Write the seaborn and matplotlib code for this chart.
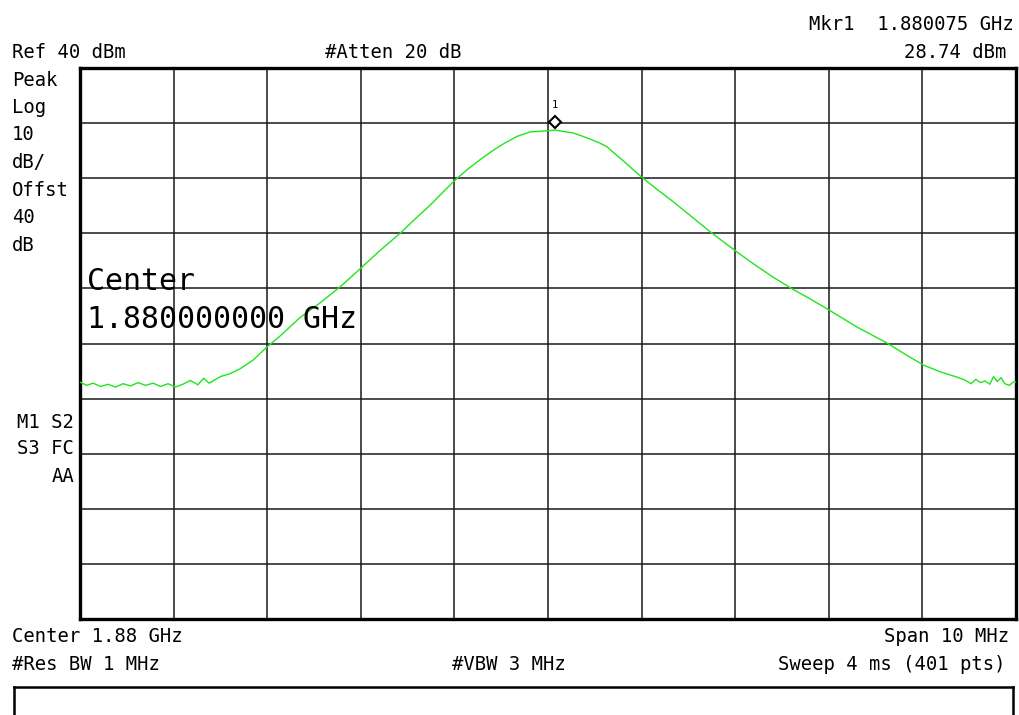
import matplotlib
matplotlib.use("Agg")
import matplotlib.pyplot as plt
import matplotlib.transforms as mtransforms
import seaborn as sns
import pandas as pd
import numpy as np

# ---- data ----
freq_offset_mhz = [
    -5.00, -4.93, -4.86, -4.78, -4.70, -4.62, -4.54, -4.46, -4.38, -4.30,
    -4.22, -4.14, -4.06, -3.98, -3.90, -3.82, -3.74, -3.68, -3.62, -3.56,
    -3.50, -3.40, -3.29, -3.15, -3.00, -2.86, -2.65, -2.44, -2.22, -2.01,
    -1.80, -1.58, -1.42, -1.26, -1.12, -0.99, -0.86, -0.73, -0.60, -0.46,
    -0.33, -0.19, -0.01, 0.075, 0.16, 0.27, 0.34, 0.45, 0.55, 0.63,
    0.80, 1.00, 1.17, 1.34, 1.55, 1.75, 2.02, 2.20, 2.40, 2.59,
    2.80, 3.00, 3.30, 3.62, 3.82, 4.01, 4.20, 4.37, 4.45, 4.52,
    4.57, 4.62, 4.67, 4.72, 4.76, 4.80, 4.84, 4.88, 4.93, 4.97, 5.00,
]
level_dbm = [
    -17.0, -17.6, -17.2, -17.8, -17.4, -17.9, -17.3, -17.7, -17.1, -17.6,
    -17.2, -17.8, -17.3, -17.9, -17.4, -16.7, -17.5, -16.3, -17.2, -16.6,
    -16.0, -15.5, -14.6, -13.0, -10.6, -8.6, -5.3, -2.7, 0.3, 3.5,
    6.8, 10.0, 12.6, 15.1, 17.5, 19.7, 21.6, 23.3, 24.9, 26.4,
    27.6, 28.4, 28.6, 28.74, 28.5, 28.2, 27.8, 27.1, 26.4, 25.7,
    23.2, 20.2, 17.9, 15.7, 12.8, 10.05, 6.6, 4.4, 2.1, 0.1,
    -1.9, -3.9, -7.0, -9.9, -12.0, -13.9, -15.2, -16.1, -16.6, -17.3,
    -16.5, -17.1, -16.8, -17.4, -16.0, -16.9, -16.2, -17.3, -17.6, -17.0, -17.0,
]
center_ghz = 1.88
ref_level = 40
db_per_div = 10
marker_offset_mhz = 0.075
marker_level = 28.74

top_texts_left = ["Peak", "Log", "10", "dB/", "Offst", "40", "dB"]
status_texts = ["M1 S2", "S3 FC", "AA"]

# ---- figure ----
sns.set_style("white")
plt.rcParams["font.family"] = ["DejaVu Sans Mono"]
plt.rcParams["text.color"] = "black"

W, H = 1019, 715
fig = plt.figure(figsize=(W / 100, H / 100), dpi=100)
fig.patch.set_facecolor("white")

def fx(px):
    return px / W

def fy(py):
    return 1 - py / H

ax = fig.add_axes([fx(80), fy(619), fx(1016) - fx(80), fy(68) - fy(619)])

df = pd.DataFrame({"f": freq_offset_mhz, "dbm": level_dbm})
sns.lineplot(data=df, x="f", y="dbm", ax=ax, color="#1ee61e", linewidth=1.0,
             estimator=None, sort=False, zorder=3)

ax.set_xlim(-5, 5)
ax.set_ylim(ref_level - 10 * db_per_div, ref_level)
ax.set_xticks(np.arange(-5, 5.01, 1))
ax.set_yticks(np.arange(ref_level - 10 * db_per_div, ref_level + 0.1, db_per_div))
ax.grid(True, color="#1a1a1a", linewidth=1.1)
ax.tick_params(length=0, labelbottom=False, labelleft=False)
ax.set_xlabel("")
ax.set_ylabel("")
for s in ax.spines.values():
    s.set_visible(True)
    s.set_color("black")
    s.set_linewidth(2.4)

# marker 1
trans = mtransforms.offset_copy(ax.transData, fig=fig, x=0, y=5.5, units="points")
ax.plot([marker_offset_mhz], [marker_level], marker="D", markersize=6.5,
        markerfacecolor="white", markeredgecolor="black", markeredgewidth=1.5,
        transform=trans, zorder=5, clip_on=False)
trans2 = mtransforms.offset_copy(ax.transData, fig=fig, x=0, y=18, units="points")
ax.text(marker_offset_mhz, marker_level, "1", transform=trans2, fontsize=7.5,
        ha="center", va="center", zorder=5, color="black")

fs = 13.6
# header texts
fig.text(fx(12), fy(53), "Ref 40 dBm", fontsize=fs, va="center", ha="left")
fig.text(fx(325), fy(53), "#Atten 20 dB", fontsize=fs, va="center", ha="left")
fig.text(fx(1014), fy(24), "Mkr1  1.880075 GHz", fontsize=fs, va="center", ha="right")
fig.text(fx(1006), fy(53), "28.74 dBm", fontsize=fs, va="center", ha="right")

for i, t in enumerate(top_texts_left):
    fig.text(fx(12), fy(80 + i * 27.5), t, fontsize=fs, va="center", ha="left")
for i, t in enumerate(status_texts):
    fig.text(fx(74), fy(422 + i * 27), t, fontsize=fs, va="center", ha="right")

# big center annotation
fig.text(fx(87), fy(282), "Center", fontsize=21.5, va="center", ha="left")
fig.text(fx(87), fy(320), "1.880000000 GHz", fontsize=21.5, va="center", ha="left")

# footer texts
fig.text(fx(12), fy(636), "Center 1.88 GHz", fontsize=fs, va="center", ha="left")
fig.text(fx(1009), fy(636), "Span 10 MHz", fontsize=fs, va="center", ha="right")
fig.text(fx(12), fy(665), "#Res BW 1 MHz", fontsize=fs, va="center", ha="left")
fig.text(fx(452), fy(665), "#VBW 3 MHz", fontsize=fs, va="center", ha="left")
fig.text(fx(1006), fy(665), "Sweep 4 ms (401 pts)", fontsize=fs, va="center", ha="right")

# bottom message box (top, left, right edges)
box = fig.add_axes([fx(14), 0 - 0.01, fx(1013) - fx(14), fy(687) + 0.01])
box.set_xticks([])
box.set_yticks([])
box.patch.set_alpha(0)
for k, s in box.spines.items():
    s.set_color("black")
    s.set_linewidth(1.8)
box.spines["bottom"].set_visible(False)

fig.savefig("out.png", dpi=100)
